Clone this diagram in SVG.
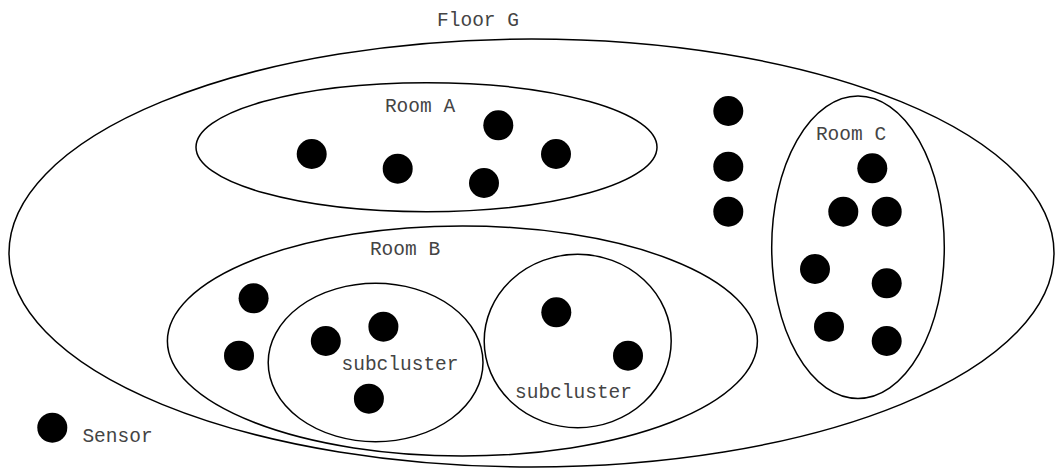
<svg xmlns="http://www.w3.org/2000/svg" width="1055" height="468" viewBox="0 0 1055 468">
<style>
.c{fill:none;stroke:#000;stroke-width:1.5}
.s{fill:#000;stroke:none}
text{font-family:"Liberation Mono","Courier New",monospace;font-size:19.5px;fill:#444;text-anchor:middle}
</style>
<rect width="1055" height="468" fill="#fff"/>
<g id="floorG">
<ellipse class="c" cx="531.5" cy="253" rx="522.5" ry="214"/>
<text x="478" y="26">Floor G</text>
</g>
<g id="roomA">
<ellipse class="c" cx="426.5" cy="147.2" rx="230.5" ry="64.5"/>
<text x="420" y="112">Room A</text>
</g>
<g id="roomB">
<ellipse class="c" cx="462.4" cy="341" rx="295" ry="115"/>
<text x="405" y="255">Room B</text>
</g>
<g id="subcluster1">
<ellipse class="c" cx="375.6" cy="362.5" rx="107.4" ry="79.2"/>
<text x="400" y="370">subcluster</text>
</g>
<g id="subcluster2">
<ellipse class="c" cx="577.7" cy="341" rx="93.5" ry="86.7"/>
<text x="573.5" y="398">subcluster</text>
</g>
<g id="roomC">
<ellipse class="c" cx="858" cy="247.2" rx="86.3" ry="151.2"/>
<text x="851" y="140">Room C</text>
</g>
<g id="sensors">
<circle class="s" cx="311.7" cy="154" r="15"/>
<circle class="s" cx="397.7" cy="168.7" r="15"/>
<circle class="s" cx="498.3" cy="125.3" r="15"/>
<circle class="s" cx="484" cy="183" r="15"/>
<circle class="s" cx="556" cy="154" r="15"/>
<circle class="s" cx="253.6" cy="298.3" r="15"/>
<circle class="s" cx="239" cy="355.7" r="15"/>
<circle class="s" cx="325.8" cy="341" r="15"/>
<circle class="s" cx="383.4" cy="326.7" r="15"/>
<circle class="s" cx="368.9" cy="398.7" r="15"/>
<circle class="s" cx="556.3" cy="312.3" r="15"/>
<circle class="s" cx="628" cy="355.7" r="15"/>
<circle class="s" cx="728.3" cy="111" r="15"/>
<circle class="s" cx="728.3" cy="166.7" r="15"/>
<circle class="s" cx="728.3" cy="211.7" r="15"/>
<circle class="s" cx="872.3" cy="168.3" r="15"/>
<circle class="s" cx="843.3" cy="211.7" r="15"/>
<circle class="s" cx="886.7" cy="211.7" r="15"/>
<circle class="s" cx="815" cy="269" r="15"/>
<circle class="s" cx="886.7" cy="283.3" r="15"/>
<circle class="s" cx="829" cy="326.7" r="15"/>
<circle class="s" cx="886.7" cy="341" r="15"/>
</g>
<g id="legend">
<circle class="s" cx="52.3" cy="427.7" r="15"/>
<text x="117.5" y="442">Sensor</text>
</g>
</svg>
